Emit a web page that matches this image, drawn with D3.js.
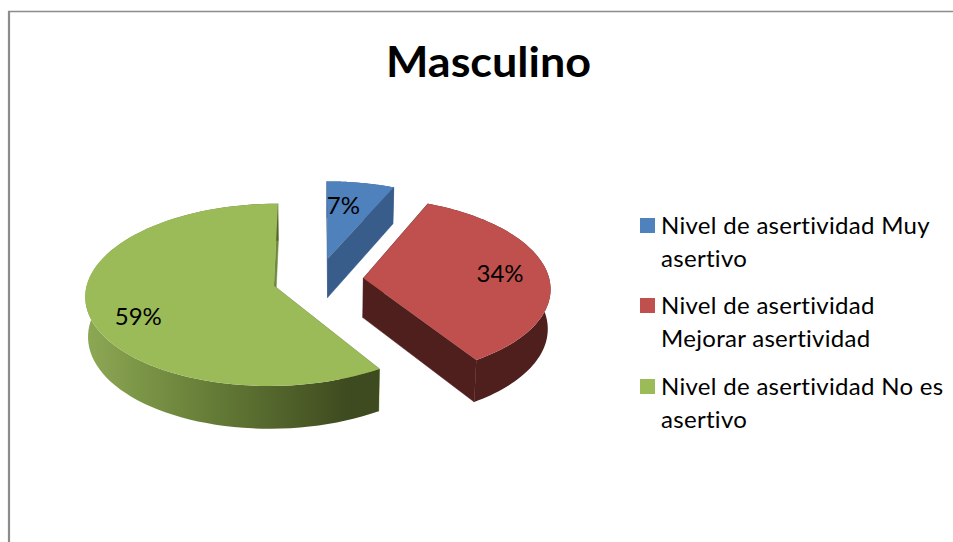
<!DOCTYPE html>
<html>
<head>
<meta charset="utf-8">
<script src="https://cdn.jsdelivr.net/npm/d3@7"></script>
<style>
html, body { margin: 0; padding: 0; background: #fff; }
svg { display: block; }
text { font-family: Lato, "Open Sans", sans-serif; fill: #000; font-variant-ligatures: none; }
</style>
</head>
<body>
<script>
const chartTitle = "Masculino";
const categories = [
    ["Nivel de asertividad Muy", "asertivo"],
    ["Nivel de asertividad", "Mejorar asertividad"],
    ["Nivel de asertividad No es", "asertivo"]
];
const shares = [7, 34, 59];
const topColors = ["#4f81bd", "#c0504d", "#9bbb59"];
const sideColors = ["#385d8a", "#4e1f1d", "url(#greenwall)"];

const box = { width: 953, height: 542 };

// fake 3d camera, fitted by eye to the picture
const cam = { cx: 318, cy: 279.5, A: 186, B: 89, T: 40, p: 0.1, q: 0.012, explode: 0.245, warp: 0.035 };

function project(u, v, z) {
    const w = 1 + cam.p * v + cam.q * z;
    return [cam.cx + cam.A * u / w, cam.cy + (-cam.B * v + cam.T * z) / w];
}

// the far seams lean a bit towards the vertical in the original
function warp(t) {
    return Math.cos(t) > 0 ? t - cam.warp * Math.sin(2 * t) : t;
}

const svg = d3.select("body").append("svg")
    .attr("width", box.width)
    .attr("height", box.height);

// frame: only top and left sides are in the crop
svg.append("line").attr("x1", 8).attr("x2", box.width).attr("y1", 11.5).attr("y2", 11.5)
    .attr("stroke", "#8c8c8c").attr("stroke-width", 1.5);
svg.append("line").attr("x1", 9).attr("x2", 9).attr("y1", 11).attr("y2", box.height)
    .attr("stroke", "#8c8c8c").attr("stroke-width", 2.2);

const grad = svg.append("defs").append("linearGradient")
    .attr("id", "greenwall")
    .attr("gradientUnits", "userSpaceOnUse")
    .attr("x1", 84).attr("x2", 378).attr("y1", 0).attr("y2", 0);
[[0, "#8ea955"], [0.35, "#6c853c"], [0.7, "#4f6029"], [0.9, "#3e4a1f"], [1, "#3e4a1f"]].forEach(s => {
    grad.append("stop").attr("offset", s[0]).attr("stop-color", s[1]);
});

svg.append("text")
    .attr("x", 386)
    .attr("y", 77)
    .attr("font-size", 42)
    .attr("font-weight", 700)
    .attr("textLength", 205)
    .attr("lengthAdjust", "spacingAndGlyphs")
    .text(chartTitle);

const arcs = d3.pie().sort(null)(shares);
const line = d3.line();
const pies = svg.append("g");

// every slice: cut faces, outer wall, top. painted green first, blue last
[2, 1, 0].forEach(i => {
    const a = arcs[i];
    const mid = (a.startAngle + a.endAngle) / 2;
    const ou = cam.explode * Math.sin(mid);
    const ov = cam.explode * Math.cos(mid);
    const t0 = warp(a.startAngle);
    const t1 = warp(a.endAngle);
    const angles = d3.range(0, 81).map(k => t0 + (t1 - t0) * k / 80);
    const rim = z => angles.map(t => project(ou + Math.sin(t), ov + Math.cos(t), z));
    const apex = z => project(ou, ov, z);
    const g = pies.append("g");
    const seamColor = i == 2 ? "#6f8a3f" : sideColors[i];

    [t0, t1].forEach(t => {
        const p0 = project(ou + Math.sin(t), ov + Math.cos(t), 0);
        const p1 = project(ou + Math.sin(t), ov + Math.cos(t), 1);
        g.append("path")
            .attr("d", line([apex(0), p0, p1, apex(1)]) + "Z")
            .attr("fill", seamColor)
            .attr("stroke", seamColor)
            .attr("stroke-width", 0.5);
    });

    g.append("path")
        .attr("d", line(rim(0).concat(rim(1).reverse())) + "Z")
        .attr("fill", sideColors[i]);

    g.append("path")
        .attr("d", line([apex(0)].concat(rim(0))) + "Z")
        .attr("fill", topColors[i]);
});

// data labels sit where the original best fit put them
const labelRadius = [0.62, 0.72, 0.76];
const labelNudge = [[-7, -6], [4, -2], [5, 10]];
arcs.forEach((a, i) => {
    const mid = (a.startAngle + a.endAngle) / 2;
    const r = labelRadius[i] + cam.explode;
    const pos = project(r * Math.sin(mid), r * Math.cos(mid), 0);
    svg.append("text")
        .attr("x", pos[0] + labelNudge[i][0])
        .attr("y", pos[1] + labelNudge[i][1])
        .attr("text-anchor", "middle")
        .attr("dominant-baseline", "central")
        .attr("font-size", 24)
        .text(a.data + "%");
});

// legend
const legendY = d3.scaleOrdinal().domain([0, 1, 2]).range([225.5, 305.5, 386.5]);
const legend = svg.append("g");
categories.forEach((lines, i) => {
    legend.append("rect")
        .attr("x", 640)
        .attr("y", legendY(i) - 7.5)
        .attr("width", 15)
        .attr("height", 15)
        .attr("fill", topColors[i]);
    const t = legend.append("text").attr("font-size", 24).attr("letter-spacing", 0.3);
    lines.forEach((s, k) => {
        t.append("tspan")
            .attr("x", 661)
            .attr("y", legendY(i) + 8 + k * 33)
            .text(s);
    });
});
</script>
</body>
</html>
